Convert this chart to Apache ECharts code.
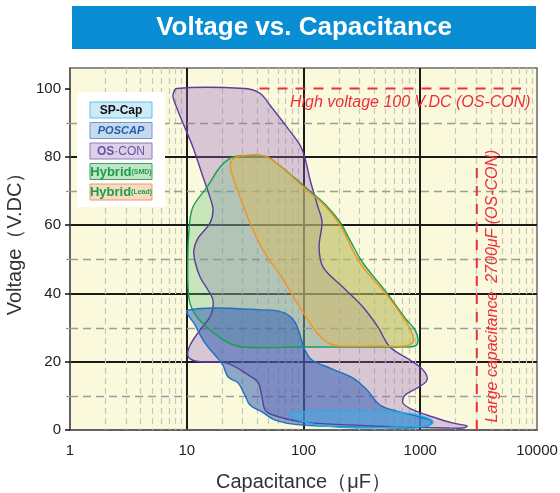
<!DOCTYPE html>
<html>
<head>
<meta charset="utf-8">
<script src="https://cdn.jsdelivr.net/npm/echarts@6/dist/echarts.min.js"></script>
<style>html,body{margin:0;padding:0;background:#fff;}#c{width:560px;height:493px;}</style>
</head>
<body>
<div id="c"></div>
<script>
// ---- axis ticks ----
const xTickLabels = ['1', '10', '100', '1000', '10000'];
const yTicks = [0, 20, 40, 60, 80, 100];
const yMinor = [10, 30, 50, 70, 90];
const xMinor = [2, 3, 4, 5, 6, 7, 8, 9, 20, 30, 40, 50, 60, 70, 80, 90,
  200, 300, 400, 500, 600, 700, 800, 900, 2000, 3000, 4000, 5000, 6000, 7000, 8000, 9000];

// ---- product regions (capacitance µF, voltage V) ----
const osconCap = [8.25, 31.5, 42.4, 51.6, 72.2, 93.3, 103, 114, 133, 144, 136, 147, 218, 323, 435, 551, 817, 1056, 1142, 938, 740, 711, 867, 1286, 1910, 2513, 2320, 1694, 671, 250, 99, 54.8, 46.8, 44.1, 40.7, 34.8, 22.1, 13.8, 11.1, 10.2, 10.7, 13.0, 16.1, 16.8, 15.2, 13.0, 11.8, 11.5, 12.5, 15.8, 16.8, 15.8, 13.8, 11.3, 9.29, 7.93, 7.62];
const osconVolt = [100, 100, 98.6, 95.1, 88.7, 83.4, 79.6, 73.2, 65.3, 60.9, 53.6, 47.7, 41.8, 36.0, 30.1, 24.3, 20.5, 17.6, 14.6, 12.3, 10.2, 7.9, 5.9, 3.8, 2.0, 1.2, 0.6, 0.6, 0.9, 1.5, 2.3, 4.4, 5.9, 9.7, 14.0, 15.8, 19.6, 19.9, 20.5, 21.9, 24.9, 29.3, 33.7, 38.0, 41.0, 44.8, 49.2, 52.7, 56.2, 60.6, 64.4, 68.2, 74.0, 82.8, 89.8, 95.7, 98.0];

const smdCap = [26.9, 46.8, 60.5, 84.6, 114, 153, 205, 250, 323, 519, 740, 902, 957, 902, 671, 93.3, 29.7, 22.1, 15.8, 12.2, 10.5, 10.2, 10.5, 11.3, 14.9, 19.3, 23.5];
const smdVolt = [80.2, 80.2, 77.8, 73.7, 69.9, 66.1, 60.9, 55.6, 48.9, 40.1, 32.8, 29.3, 26.3, 24.6, 24.3, 24.3, 24.3, 25.8, 29.3, 33.1, 38.0, 49.8, 59.4, 65.3, 71.1, 77.0, 79.6];

const leadCap = [28.6, 46.8, 62.9, 107, 153, 205, 305, 519, 740, 850, 867, 740, 452, 205, 162, 131, 99, 62.9, 45.0, 34.8, 28.6, 23.9, 24.4];
const leadVolt = [80.2, 80.2, 77.3, 70.2, 65.6, 60.0, 48.9, 39.5, 32.2, 28.4, 25.8, 24.6, 24.6, 24.6, 25.5, 28.4, 34.5, 45.4, 52.7, 60.6, 68.2, 76.1, 79.0];

const poscapCap = [10.2, 51.6, 69.4, 84.6, 93.3, 103, 118, 169, 266, 350, 452, 671, 995, 1261, 1165, 817, 250, 93.3, 57.0, 44.1, 34.8, 31.5, 27.5, 22.6, 20.4, 17.5, 14.3, 11.8];
const poscapVolt = [35.1, 35.1, 34.2, 31.6, 27.8, 23.4, 20.5, 18.1, 15.2, 11.7, 7.3, 5.3, 3.8, 2.6, 1.2, 0.6, 0.9, 1.5, 2.9, 5.3, 7.3, 10.2, 13.8, 15.5, 19.0, 21.9, 25.5, 30.7];

const spcapCap = [76.6, 93.3, 205, 551, 867, 1165, 1286, 1165, 671, 287, 147, 103, 79.7];
const spcapVolt = [4.7, 5.3, 5.6, 5.3, 4.7, 3.5, 2.3, 1.2, 0.9, 0.6, 1.2, 2.3, 3.8];

// ---- annotation lines ----
const highVoltCap = [42, 7300];
const highVoltVolt = [100, 100];
const largeCapCap = [3050, 3050];
const largeCapVolt = [0, 77];

const legendNames = ['SP-Cap', 'POSCAP', 'OS-CON', 'Hybrid(SMD)', 'Hybrid(Lead)'];

const chart = echarts.init(document.getElementById('c'), null, {renderer: 'canvas'});

function regionFill(name, caps, volts, fill, z) {
  return {
    type: 'custom', name: name + '-fill', coordinateSystem: 'cartesian2d', z: z, silent: true,
    data: caps.map((c, i) => [c, volts[i]]),
    renderItem: function (params, api) {
      if (params.dataIndex !== 0) return null;
      const pts = caps.map((c, i) => api.coord([c, volts[i]]));
      return {type: 'polygon', shape: {points: pts, smooth: 0.35}, style: {fill: fill, stroke: null}};
    }
  };
}
function regionStroke(name, caps, volts, stroke, z) {
  return {
    type: 'custom', name: name + '-line', coordinateSystem: 'cartesian2d', z: z, silent: true,
    data: caps.map((c, i) => [c, volts[i]]),
    renderItem: function (params, api) {
      if (params.dataIndex !== 0) return null;
      const pts = caps.map((c, i) => api.coord([c, volts[i]]));
      return {type: 'polygon', shape: {points: pts, smooth: 0.35}, style: {fill: null, stroke: stroke, lineWidth: 1.4}};
    }
  };
}
function annotLine(name, caps, volts) {
  return {
    type: 'custom', name: name, coordinateSystem: 'cartesian2d', z: 6, silent: true,
    data: caps.map((c, i) => [c, volts[i]]),
    renderItem: function (params, api) {
      if (params.dataIndex !== 0) return null;
      const a = api.coord([caps[0], volts[0]]);
      const b = api.coord([caps[1], volts[1]]);
      return {type: 'line', shape: {x1: a[0], y1: a[1], x2: b[0], y2: b[1]},
        style: {stroke: '#ec2f3c', lineWidth: 2, lineDash: [10, 8]}};
    }
  };
}

const series = [
  {
    type: 'custom', name: 'minorX', coordinateSystem: 'cartesian2d', z: 1, silent: true,
    data: xMinor.map(v => [v, 0]),
    renderItem: function (params, api) {
      const cs = params.coordSys;
      const x = Math.round(api.coord([api.value(0), 0])[0]) + 0.5;
      return {type: 'line', shape: {x1: x, y1: cs.y, x2: x, y2: cs.y + cs.height},
        style: {stroke: '#c6c6c0', lineWidth: 1.2, lineDash: [6, 4]}};
    }
  },
  {
    type: 'custom', name: 'minorY', coordinateSystem: 'cartesian2d', z: 1, silent: true,
    data: yMinor.map(v => [1, v]),
    renderItem: function (params, api) {
      const cs = params.coordSys;
      const y = Math.round(api.coord([1, api.value(1)])[1]) + 0.5;
      return {type: 'group', children: [
        {type: 'line', shape: {x1: cs.x, y1: y, x2: cs.x + cs.width, y2: y},
          style: {stroke: '#9c9c98', lineWidth: 1.5, lineDash: [8, 5]}},
        {type: 'line', shape: {x1: cs.x - 4, y1: y, x2: cs.x, y2: y},
          style: {stroke: '#999', lineWidth: 1.2}}
      ]};
    }
  },
  regionFill('OS-CON', osconCap, osconVolt, 'rgba(150,104,190,0.34)', 2),
  regionFill('Hybrid(SMD)', smdCap, smdVolt, 'rgba(100,190,120,0.33)', 2),
  regionFill('Hybrid(Lead)', leadCap, leadVolt, 'rgba(225,185,80,0.42)', 2),
  regionFill('POSCAP', poscapCap, poscapVolt, 'rgba(45,90,180,0.52)', 2),
  regionFill('SP-Cap', spcapCap, spcapVolt, 'rgba(70,170,230,0.5)', 2),
  regionStroke('OS-CON', osconCap, osconVolt, '#5b3d9b', 3),
  regionStroke('Hybrid(SMD)', smdCap, smdVolt, '#14a04c', 3),
  regionStroke('Hybrid(Lead)', leadCap, leadVolt, '#f5921e', 3),
  regionStroke('POSCAP', poscapCap, poscapVolt, '#1b72c0', 3),
  regionStroke('SP-Cap', spcapCap, spcapVolt, '#1eb2ea', 3),
  annotLine('High voltage', highVoltCap, highVoltVolt),
  annotLine('Large capacitance', largeCapCap, largeCapVolt)
];

const LS = 'Liberation Sans';
const legendStyles = [
  {fill: '#cdeaf7', stroke: '#5cc3ec', text: '{a|SP-Cap}', rich: {a: {fontFamily: LS, fontWeight: 'bold', fontSize: 12, fill: '#111'}}},
  {fill: '#c8d9ef', stroke: '#6c9bd2', text: '{a|POSCAP}', rich: {a: {fontFamily: LS, fontWeight: 'bold', fontStyle: 'italic', fontSize: 11, fill: '#1e5fb0'}}},
  {fill: '#ddd1e9', stroke: '#9479be', text: '{a|OS}{b|·CON}', rich: {a: {fontFamily: LS, fontWeight: 'bold', fontSize: 12, fill: '#6b4fa6'}, b: {fontFamily: LS, fontSize: 12, fill: '#6b4fa6'}}},
  {fill: '#c3e4c9', stroke: '#3aa55a', text: '{a|Hybrid}{b|(SMD)}', rich: {a: {fontFamily: LS, fontWeight: 'bold', fontSize: 13, fill: '#17a04a'}, b: {fontFamily: LS, fontWeight: 'bold', fontSize: 7, fill: '#17a04a'}}},
  {fill: '#f7dcc3', stroke: '#e99b5e', text: '{a|Hybrid}{b|(Lead)}', rich: {a: {fontFamily: LS, fontWeight: 'bold', fontSize: 13, fill: '#17a04a'}, b: {fontFamily: LS, fontWeight: 'bold', fontSize: 7, fill: '#17a04a'}}}
];

const LX = 77, LY = 92;
const legendGraphics = [{type: 'rect', z: 20, shape: {x: LX, y: LY, width: 88, height: 115}, style: {fill: '#ffffff'}}];
legendNames.forEach((n, i) => {
  const s = legendStyles[i];
  const y = LY + 10 + i * 20.5;
  legendGraphics.push({type: 'rect', z: 21, shape: {x: LX + 13, y: y, width: 62, height: 16}, style: {fill: s.fill, stroke: s.stroke, lineWidth: 1}});
  legendGraphics.push({type: 'text', z: 22, x: LX + 44, y: y + 8.5, style: {text: s.text, rich: s.rich, align: 'center', verticalAlign: 'middle'}});
});

const option = {
  animation: false,
  grid: {left: 70, right: 23, top: 68, bottom: 63, outerBoundsMode: 'none', containLabel: false,
    show: true, backgroundColor: '#fbf9dc', borderColor: '#6a6a6a', borderWidth: 1.5},
  xAxis: {
    type: 'log', logBase: 10, min: 1, max: 10000,
    axisLine: {show: true, lineStyle: {color: '#555', width: 1.5}},
    axisTick: {show: false},
    axisLabel: {color: '#222', fontSize: 15, margin: 13, fontFamily: LS,
      formatter: v => xTickLabels[Math.round(Math.log10(v))]},
    splitLine: {show: true, showMinLine: false, showMaxLine: false, lineStyle: {color: '#1a1a1a', width: 2}},
    minorTick: {show: false}, minorSplitLine: {show: false},
    name: 'Capacitance（μF）', nameLocation: 'middle', nameGap: 42,
    nameTextStyle: {fontSize: 20, color: '#333', fontFamily: LS}
  },
  yAxis: {
    type: 'value', min: 0, max: 106, interval: 20,
    axisLine: {show: true, lineStyle: {color: '#555', width: 1.5}},
    axisTick: {show: true, length: 5, customValues: yTicks, lineStyle: {color: '#111', width: 1.5}},
    axisLabel: {color: '#222', fontSize: 15, margin: 9, fontFamily: LS, customValues: yTicks,
      formatter: v => (yTicks.indexOf(v) >= 0 ? String(v) : '')},
    splitLine: {show: true, showMinLine: false, showMaxLine: false, lineStyle: {color: '#1a1a1a', width: 2}},
    name: 'Voltage（V.DC）', nameLocation: 'middle', nameGap: 37,
    nameTextStyle: {fontSize: 20, color: '#333', fontFamily: LS, padding: [0, 0, 0, 20]}
  },
  series: series,
  graphic: [
    {type: 'rect', shape: {x: 72, y: 6, width: 464, height: 43}, style: {fill: '#0a8ed3'}, z: 10},
    {type: 'text', x: 304, y: 28, z: 11, style: {text: 'Voltage vs. Capacitance', fill: '#ffffff', font: 'bold 26px "Liberation Sans", Arial, sans-serif', align: 'center', verticalAlign: 'middle'}},
    {type: 'text', x: 290, y: 103, z: 10, style: {text: 'High voltage 100 V.DC (OS-CON)', fill: '#ec2f3c', font: 'italic 16px "Liberation Sans", Arial, sans-serif', align: 'left', verticalAlign: 'middle'}},
    {type: 'text', x: 493, y: 286, rotation: Math.PI / 2, z: 10, style: {text: 'Large capacitance  2700μF (OS-CON)', fill: '#ec2f3c', font: 'italic 16px "Liberation Sans", Arial, sans-serif', align: 'center', verticalAlign: 'middle'}}
  ].concat(legendGraphics)
};
chart.setOption(option);
</script>
</body>
</html>
